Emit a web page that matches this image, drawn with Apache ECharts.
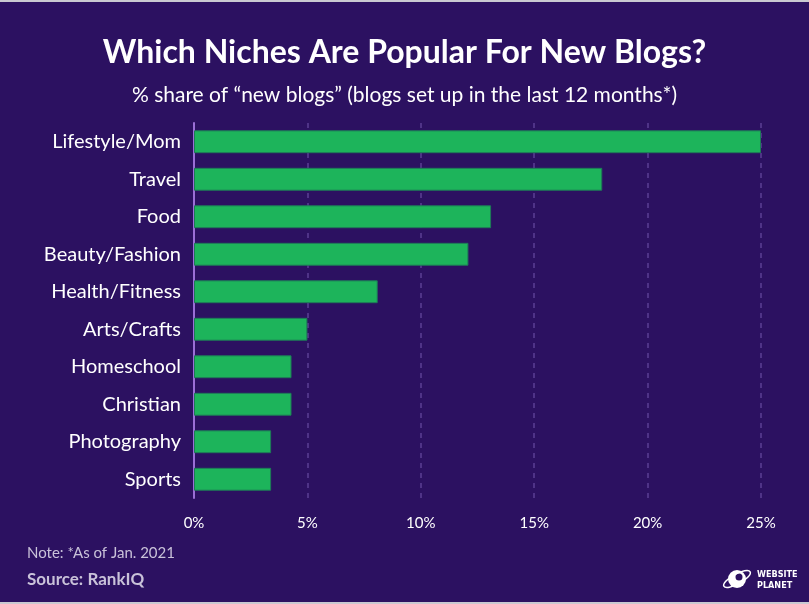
<!DOCTYPE html>
<html>
<head>
<meta charset="utf-8">
<script src="https://cdn.jsdelivr.net/npm/echarts@6/dist/echarts.min.js"></script>
<style>
html,body{margin:0;padding:0;background:#2c1161;}
#c{width:809px;height:604px;}
</style>
</head>
<body>
<div id="c"></div>
<script>
const categories = ["Lifestyle/Mom","Travel","Food","Beauty/Fashion","Health/Fitness","Arts/Crafts","Homeschool","Christian","Photography","Sports"];
const shares = [25, 18, 13.1, 12.1, 8.1, 5, 4.3, 4.3, 3.4, 3.4];
const xTicks = [0, 5, 10, 15, 20, 25];

const chart = echarts.init(document.getElementById('c'), null, {renderer:'canvas'});
const font = 'Lato, "Open Sans", sans-serif';
chart.setOption({
  backgroundColor: '#2c1161',
  animation: false,
  title: [
    {text: 'Which Niches Are Popular For New Blogs?', left: 'center', top: 32,
     textStyle: {color: '#ffffff', fontSize: 32, fontWeight: 'bold', fontFamily: font}},
    {text: '% share of \u201cnew blogs\u201d (blogs set up in the last 12 months*)', left: 'center', top: 80,
     textStyle: {color: '#ffffff', fontSize: 21, fontWeight: 'normal', fontFamily: font}},
    {text: 'Note: *As of Jan. 2021', left: 22, top: 541,
     textStyle: {color: '#c9c2d9', fontSize: 15, fontWeight: 'normal', fontFamily: font}},
    {text: 'Source: RankIQ', left: 22, top: 566,
     textStyle: {color: '#c9c2d9', fontSize: 17, fontWeight: 'bold', fontFamily: font}}
  ],
  grid: {left: 194, right: 48, top: 123, height: 375, containLabel: false},
  xAxis: {
    type: 'value', min: 0, max: 25, interval: 5,
    axisLine: {show: false}, axisTick: {show: false},
    splitLine: {show: true, lineStyle: {color: '#5b3f94', type: [5, 5], width: 1.5}},
    axisLabel: {color: '#ffffff', fontSize: 15, fontFamily: font, margin: 18,
      formatter: v => xTicks.includes(v) ? v + '%' : ''}
  },
  yAxis: {
    type: 'category', data: categories, inverse: true,
    axisLine: {show: true, lineStyle: {color: '#9b6fd6', width: 2}},
    axisTick: {show: false},
    axisLabel: {color: '#ffffff', fontSize: 20, fontFamily: font, margin: 13}
  },
  series: [{
    type: 'bar', data: shares, barWidth: '61%',
    itemStyle: {color: '#1db45b', borderColor: '#1e7a58', borderWidth: 1}
  }],
  graphic: [
    {type: 'rect', shape: {x: 0, y: 0, width: 809, height: 2}, style: {fill: '#c9c9d1'}},
    {type: 'rect', shape: {x: 0, y: 602, width: 809, height: 2}, style: {fill: '#c9c9d1'}},
    {type: 'circle', shape: {cx: 737, cy: 579, r: 9}, style: {fill: '#ffffff'}},
    {type: 'circle', shape: {cx: 739, cy: 577, r: 3.5}, style: {fill: '#2c1161'}},
    {type: 'ellipse', shape: {cx: 737, cy: 579, rx: 15, ry: 5}, rotation: 0.5, originX: 737, originY: 579,
     style: {fill: 'none', stroke: '#ffffff', lineWidth: 1.5}},
    {type: 'text', left: 757, top: 569, style: {text: 'WEBSITE\nPLANET', fill: '#ffffff', font: 'bold 9px "DejaVu Sans Condensed", sans-serif', lineHeight: 11}}
  ]
});
</script>
</body>
</html>
